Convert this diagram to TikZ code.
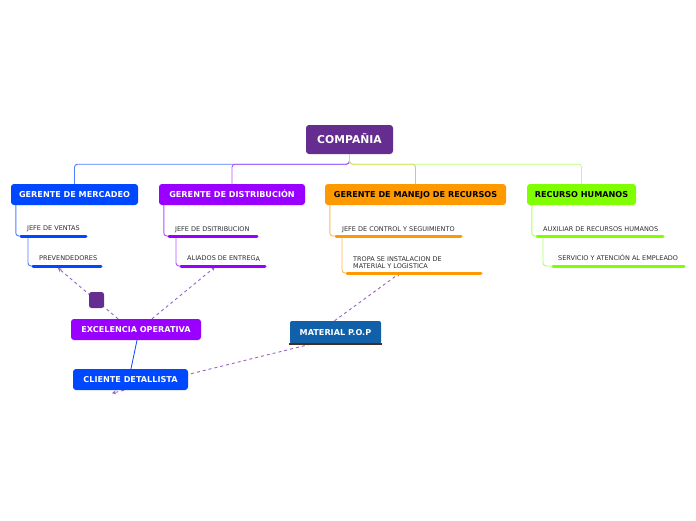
\documentclass[tikz,border=0pt]{standalone}
\usepackage{fontspec}
\setmainfont{DejaVu Sans}
\usetikzlibrary{arrows.meta,calc,backgrounds}
\definecolor{cpurple}{RGB}{102,45,145}
\definecolor{cblue}{RGB}{0,72,255}
\definecolor{cviolet}{RGB}{153,0,255}
\definecolor{corange}{RGB}{255,153,0}
\definecolor{cgreen}{RGB}{128,255,0}
\definecolor{cmat}{RGB}{17,96,170}
\definecolor{cbrown}{RGB}{70,45,30}
\definecolor{cdash}{RGB}{150,100,200}
\definecolor{lblue}{RGB}{80,125,255}
\definecolor{lviolet}{RGB}{180,80,255}
\definecolor{lorange}{RGB}{255,185,80}
\definecolor{lgreen}{RGB}{175,255,100}
\definecolor{ctext}{RGB}{45,45,45}
\begin{document}
\begin{tikzpicture}[x=1pt,y=-1pt,
 main/.style={rounded corners=3pt, inner sep=0pt, font=\bfseries\fontsize{8.1}{9}\selectfont, text=white, minimum height=21pt, text height=5.9pt, text depth=0pt},
 sub/.style={font=\fontsize{6.5}{7.5}\selectfont, text=ctext, anchor=base west, inner sep=0pt, align=left},
 bar/.style={line width=3pt, line cap=round},
 link/.style={line width=0.9pt, rounded corners=3pt},
 rel/.style={cdash, dash pattern=on 3pt off 3pt, line width=0.9pt, -{Stealth[length=4pt,width=4pt]}}
]
\useasboundingbox (0,0) rectangle (696,520);

% main nodes
\node[main, fill=cpurple, minimum width=87pt, minimum height=29pt, font=\bfseries\fontsize{10.8}{12}\selectfont, text height=7.9pt] (comp) at (349.5,139.5) {COMPAÑIA};
\node[main, fill=cblue, minimum width=127pt] (merc) at (74.5,194.5) {GERENTE DE MERCADEO};
\node[main, fill=cviolet, minimum width=146pt] (dist) at (232,194.5) {GERENTE DE DISTRIBUCIÓN};
\node[main, fill=corange, minimum width=181pt, text=black] (mane) at (415.5,194.5) {GERENTE DE MANEJO DE RECURSOS};
\node[main, fill=cgreen, minimum width=109pt, text=black] (rrhh) at (581.5,194.5) {RECURSO HUMANOS};

% floating nodes
\node[main, fill=cviolet, minimum width=130pt] (exce) at (136,329.5) {EXCELENCIA OPERATIVA};
\node[main, fill=cblue, minimum width=115pt] (clie) at (130.5,379.5) {CLIENTE DETALLISTA};
\node[main, fill=cmat, minimum width=91pt, minimum height=23pt, rounded corners=2pt] (mate) at (335.5,332.5) {MATERIAL P.O.P};
\node[fill=cpurple, rounded corners=2.5pt, minimum width=15pt, minimum height=16pt, inner sep=0pt] (sq) at (96.5,300) {};
\draw[cbrown, line width=2pt] (mate.south west) ++(-1,0) coordinate (mb1) -- ($(mate.south east)+(1,0)$) coordinate (mb2);

% sub topics: text + bars
\node[sub] (jv) at (27,230.5) {JEFE DE VENTAS};
\coordinate (jvA) at (21,236); \coordinate (jvB) at (86,236);
\node[sub] (pv) at (39,260.5) {PREVENDEDORES};
\coordinate (pvA) at (33,266); \coordinate (pvB) at (101,266);

\node[sub] (jd) at (175,231) {JEFE DE DSITRIBUCION};
\coordinate (jdA) at (169,236); \coordinate (jdB) at (257,236);
\node[sub] (al) at (187,260.5) {ALIADOS DE ENTREG\raisebox{-0.6pt}{A}};
\coordinate (alA) at (181,266); \coordinate (alB) at (265,266);

\node[sub] (jc) at (342,231) {JEFE DE CONTROL Y SEGUIMIENTO};
\coordinate (jcA) at (336,236); \coordinate (jcB) at (461,236);
\node[sub] (tr) at (353,268.5) {TROPA SE INSTALACION DE\\MATERIAL Y LOGISTICA};
\coordinate (trA) at (347,273); \coordinate (trB) at (481,273);

\node[sub] (au) at (543,231) {AUXILIAR DE RECURSOS HUMANOS};
\coordinate (auA) at (537,236); \coordinate (auB) at (663,236);
\node[sub] (se) at (558,260.5) {SERVICIO Y ATENCIÓN AL EMPLEADO};
\coordinate (seA) at (553,266); \coordinate (seB) at (684,266);

\begin{pgfonlayer}{background}
% tree connectors
\draw[link, lblue] (comp.south) -- ++(0,10) -| (merc.north);
\draw[link, lviolet] (comp.south) -- ++(0,10) -| (dist.north);
\draw[link, lorange] (comp.south) -- ++(0,10) -| (mane.north);
\draw[link, lgreen, opacity=0.85] (comp.south) -- ++(0,10) -| (rrhh.north);

\draw[link, lblue] ($(merc.south west)+(5,0)$) |- (jvA);
\draw[link, lblue] ($(jvA)+(7,0)$) |- (pvA);
\draw[link, lviolet] ($(dist.south west)+(5,0)$) |- (jdA);
\draw[link, lviolet] ($(jdA)+(7,0)$) |- (alA);
\draw[link, lorange] ($(mane.south west)+(5,0)$) |- (jcA);
\draw[link, lorange] ($(jcA)+(6,0)$) |- (trA);
\draw[link, lgreen] ($(rrhh.south west)+(5,0)$) |- (auA);
\draw[link, lgreen] ($(auA)+(6,0)$) |- (seA);

% relations
\draw[rel] ($(exce.north)+(-18,0)$) -- ($(pvA)+(25,2)$);
\draw[rel] ($(exce.north)+(16,0)$) -- ($(alA)+(34,1)$);
\draw[rel] ($(mate.north)+(-1,0)$) -- ($(trA)+(53,0)$);
\draw[rel] ($(mate.south)+(-25,0)$) -- ($(clie.south)+(-18.5,3)$);
\draw[cblue, line width=0.8pt] ($(exce.south)+(1,0)$) -- ($(clie.north)+(0.5,0)$);
\end{pgfonlayer}

% bars
\draw[bar, cblue] (jvA) -- (jvB);
\draw[bar, cblue] (pvA) -- (pvB);
\draw[bar, cviolet] (jdA) -- (jdB);
\draw[bar, cviolet] (alA) -- (alB);
\draw[bar, corange] (jcA) -- (jcB);
\draw[bar, corange] (trA) -- (trB);
\draw[bar, cgreen] (auA) -- (auB);
\draw[bar, cgreen] (seA) -- (seB);
\end{tikzpicture}
\end{document}
